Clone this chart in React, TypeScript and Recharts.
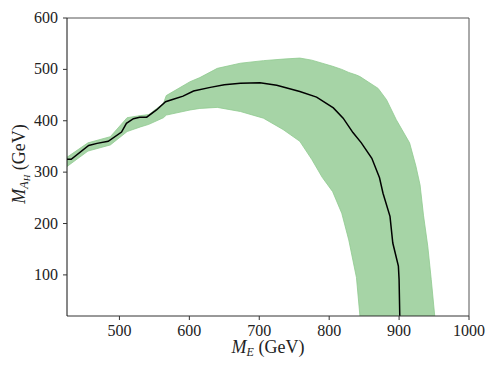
import { ComposedChart, Area, Line, XAxis, YAxis, ReferenceLine } from "recharts";

// shaded band: x, lower edge, upper edge
const bandX = [425, 455, 487, 511, 530, 542, 563, 567, 601, 615, 640, 673, 706, 734, 758, 775, 790, 805, 818, 828, 839, 844, 870, 882, 896, 915, 924, 930, 935, 941, 946, 951];
const bandLow = [311, 341, 353, 379, 388, 393, 406, 411, 421, 424, 426, 418, 405, 383, 360, 325, 290, 262, 220, 168, 95, 20, 20, 20, 20, 20, 20, 20, 20, 20, 20, 20];
const bandHigh = [329, 357, 369, 406, 410, 412, 434, 449, 476, 484, 502, 512, 517, 520, 522, 518, 512, 506, 500, 494, 489, 486, 463, 441, 402, 357, 312, 275, 215, 156, 91, 20];

// central black curve
const lineX = [425, 431, 456, 468, 484, 503, 510, 520, 529, 539, 553, 566, 577, 591, 606, 630, 650, 673, 701, 725, 758, 782, 806, 820, 834, 846, 861, 872, 877, 887, 891, 899, 900, 901];
const lineY = [325, 325, 352, 356, 360, 378, 395, 404, 407, 407, 421, 437, 442, 448, 458, 465, 470, 473, 474, 469, 457, 446, 425, 405, 377, 357, 327, 289, 259, 214, 162, 117, 91, 20];

const xTicks = [500, 600, 700, 800, 900, 1000];
const yTicks = [100, 200, 300, 400, 500, 600];

const bandData = bandX.map((x, i) => ({ x, range: [bandLow[i], bandHigh[i]] }));
const lineData = lineX.map((x, i) => ({ x, y: lineY[i] }));

const font = "'Liberation Serif', 'Times New Roman', serif";

function XTick({ x, y, payload }: any) {
    return (
        <text x={x} y={y + 11} textAnchor="middle" fontFamily={font} fontSize={16} fill="#222">
            {payload.value}
        </text>
    );
}

function YTick({ x, y, payload }: any) {
    return (
        <text x={x} y={y + 5} textAnchor="end" fontFamily={font} fontSize={16} fill="#222">
            {payload.value}
        </text>
    );
}

function XLabel({ viewBox }: any) {
    const cx = viewBox.x + viewBox.width / 2;
    const y = viewBox.y + 37;
    return (
        <text x={cx} y={y} textAnchor="middle" fontFamily={font} fontSize={18} fill="#222">
            <tspan fontStyle="italic">M</tspan>
            <tspan fontStyle="italic" fontSize={12} dy={3}>E</tspan>
            <tspan dy={-3}> (GeV)</tspan>
        </text>
    );
}

function YLabel({ viewBox }: any) {
    const x = 17;
    const cy = viewBox.y + viewBox.height / 2 - 3;
    return (
        <text x={x} y={cy} transform={`rotate(-90, ${x}, ${cy})`} textAnchor="middle" fontFamily={font} fontSize={18} fill="#222">
            <tspan fontStyle="italic">M</tspan>
            <tspan fontStyle="italic" fontSize={12} dy={3}>A</tspan>
            <tspan fontStyle="italic" fontSize={9} dy={2}>H</tspan>
            <tspan dy={-5}> (GeV)</tspan>
        </text>
    );
}

export default function App() {
    return (
        <ComposedChart
            width={482}
            height={358}
            data={bandData}
            margin={{ top: 10, right: 21, left: 0, bottom: 0 }}
            style={{ fontFamily: font }}
        >
            <XAxis
                dataKey="x"
                type="number"
                domain={[425, 1000]}
                allowDataOverflow
                ticks={xTicks}
                tickSize={4}
                tickMargin={5}
                height={50}
                axisLine={{ stroke: "#333" }}
                tickLine={{ stroke: "#333" }}
                tick={<XTick />}
                label={{ content: XLabel }}
            />
            <YAxis
                type="number"
                domain={[20, 600]}
                allowDataOverflow
                ticks={yTicks}
                tickSize={4}
                tickMargin={5}
                width={59}
                axisLine={{ stroke: "#111" }}
                tickLine={{ stroke: "#333" }}
                tick={<YTick />}
                label={{ content: YLabel }}
            />
            <Area
                dataKey="range"
                type="linear"
                fill="#a6d4a6"
                fillOpacity={1}
                stroke="#8fca8f"
                strokeWidth={0.8}
                isAnimationActive={false}
            />
            <Line
                data={lineData}
                dataKey="y"
                type="linear"
                stroke="#000"
                strokeWidth={1.5}
                dot={false}
                isAnimationActive={false}
            />
            <ReferenceLine y={600} stroke="#555" />
            <ReferenceLine x={1000} stroke="#555" />
        </ComposedChart>
    );
}
